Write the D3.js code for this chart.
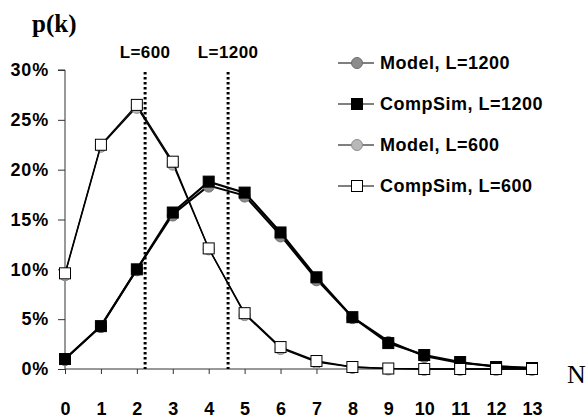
<!DOCTYPE html>
<html>
<head>
<meta charset="utf-8">
<script src="https://cdn.jsdelivr.net/npm/d3@7/dist/d3.min.js"></script>
<style>
  body { margin: 0; background: #fff; }
  text { font-family: "Liberation Sans", Arial, sans-serif; font-weight: bold; }
</style>
</head>
<body>
<div id="chart"></div>
<script>
var width = 588;
var height = 418;

// number of neighbours k
var kValues = [0, 1, 2, 3, 4, 5, 6, 7, 8, 9, 10, 11, 12, 13];

// p(k) in percent
var model1200   = [1.0, 4.3, 10.0, 15.5, 18.4, 17.4, 13.4, 9.0, 5.2, 2.8, 1.3, 0.6, 0.3, 0.1];
var compSim1200 = [1.0, 4.3, 10.0, 15.7, 18.8, 17.7, 13.7, 9.2, 5.2, 2.6, 1.4, 0.7, 0.2, 0.1];
var model600    = [9.5, 22.4, 26.3, 20.6, 12.1, 5.5, 2.1, 0.7, 0.2, 0.05, 0.0, 0.0, 0.0, 0.0];
var compSim600  = [9.6, 22.5, 26.5, 20.8, 12.1, 5.6, 2.2, 0.8, 0.2, 0.05, 0.0, 0.0, 0.0, 0.0];

var yTicks = [0, 5, 10, 15, 20, 25, 30];

// mean k markers
var meanLines = [
  { label: "L=600", k: 2.23 },
  { label: "L=1200", k: 4.54 }
];

var series = [
  { name: "Model, L=1200",   values: model1200,   shape: "circle", fill: "#8c8c8c", stroke: "#6e6e6e", lineWidth: 2 },
  { name: "CompSim, L=1200", values: compSim1200, shape: "square", fill: "#000",    stroke: "#000",    lineWidth: 2.2 },
  { name: "Model, L=600",    values: model600,    shape: "circle", fill: "#b8b8b8", stroke: "#8e8e8e", lineWidth: 1.4 },
  { name: "CompSim, L=600",  values: compSim600,  shape: "square", fill: "#fff",    stroke: "#000",    lineWidth: 1.4 }
];

function createSVG(width, height) {
  return d3.select("#chart")
    .append("svg")
    .attr("width", width)
    .attr("height", height);
}

function drawMarker(g, d, x, y) {
  if (d.shape === "circle") {
    g.append("circle")
      .attr("cx", x).attr("cy", y).attr("r", 5.5)
      .style("fill", d.fill)
      .style("stroke", d.stroke)
      .style("stroke-width", 1);
  } else {
    g.append("rect")
      .attr("x", x - 5.5).attr("y", y - 5.5)
      .attr("width", 11).attr("height", 11)
      .style("fill", d.fill)
      .style("stroke", d.stroke)
      .style("stroke-width", 1);
  }
}

function main() {
  var svg = createSVG(width, height);

  var x = d3.scaleLinear().domain([0, 13]).range([65, 532]);
  var y = d3.scaleLinear().domain([0, 30]).range([369, 70]);

  // y axis
  var yAxis = d3.axisLeft(y)
    .tickValues(yTicks)
    .tickSize(7)
    .tickPadding(9)
    .tickFormat(function(d) { return d + "%"; });
  var gy = svg.append("g")
    .attr("transform", "translate(" + x(0) + ",0)")
    .call(yAxis);
  gy.select(".domain").attr("d", "M-7," + y(30) + "H0V" + y(0)).style("stroke", "#333");
  gy.selectAll(".tick line").style("stroke", "#333");
  gy.selectAll(".tick text")
    .style("font-size", "18px")
    .style("letter-spacing", "0.8px")
    .style("font-family", "'Liberation Sans', Arial, sans-serif")
    .style("font-weight", "bold")
    .style("fill", "#000");

  // x axis
  var xAxis = d3.axisBottom(x)
    .tickValues(kValues)
    .tickSize(5)
    .tickPadding(28)
    .tickFormat(d3.format("d"));
  var gx = svg.append("g")
    .attr("transform", "translate(0," + y(0) + ")")
    .call(xAxis);
  gx.select(".domain").attr("d", "M" + x(0) + ",0H" + x(13)).style("stroke", "#333");
  gx.selectAll(".tick line").style("stroke", "#333");
  gx.selectAll(".tick text")
    .style("font-size", "18px")
    .style("font-family", "'Liberation Sans', Arial, sans-serif")
    .style("font-weight", "bold")
    .style("fill", "#000");

  // mean lines
  meanLines.forEach(function(m) {
    svg.append("line")
      .attr("x1", x(m.k)).attr("x2", x(m.k))
      .attr("y1", y(29.8)).attr("y2", y(0))
      .style("stroke", "#000")
      .style("stroke-width", 3)
      .style("stroke-dasharray", "2.5,2.5");
    svg.append("text")
      .attr("x", x(m.k))
      .attr("y", 58)
      .attr("text-anchor", "middle")
      .style("font-size", "17px")
      .style("letter-spacing", "0.4px")
      .text(m.label);
  });

  // series
  var line = d3.line()
    .x(function(d, i) { return x(kValues[i]); })
    .y(function(d) { return y(d); });

  series.forEach(function(s) {
    var g = svg.append("g");
    g.append("path")
      .attr("d", line(s.values))
      .style("fill", "none")
      .style("stroke", "#000")
      .style("stroke-width", s.lineWidth);
    s.values.forEach(function(v, i) {
      drawMarker(g, s, x(kValues[i]), y(v) + (s.shape === "circle" ? 1 : 0));
    });
  });

  // legend
  var legend = svg.append("g").attr("transform", "translate(338,63)");
  series.forEach(function(s, i) {
    var row = legend.append("g").attr("transform", "translate(0," + i * 41 + ")");
    row.append("line")
      .attr("x1", 0).attr("x2", 36)
      .attr("y1", 0).attr("y2", 0)
      .style("stroke", "#000")
      .style("stroke-width", 1.2);
    drawMarker(row, s, 19, 0);
    row.append("text")
      .attr("x", 42)
      .attr("y", 6)
      .style("font-size", "18px")
      .style("letter-spacing", "0.5px")
      .text(s.name);
  });

  // axis titles
  svg.append("text")
    .attr("x", 32).attr("y", 32)
    .style("font-family", "'Liberation Serif', 'Times New Roman', serif")
    .style("font-size", "25px")
    .style("font-weight", "bold")
    .text("p(k)");

  svg.append("text")
    .attr("x", 567).attr("y", 383)
    .style("font-family", "'Liberation Serif', 'Times New Roman', serif")
    .style("font-size", "26px")
    .style("font-weight", "normal")
    .text("N");
}

window.onload = function() {
  main();
};
</script>
</body>
</html>
